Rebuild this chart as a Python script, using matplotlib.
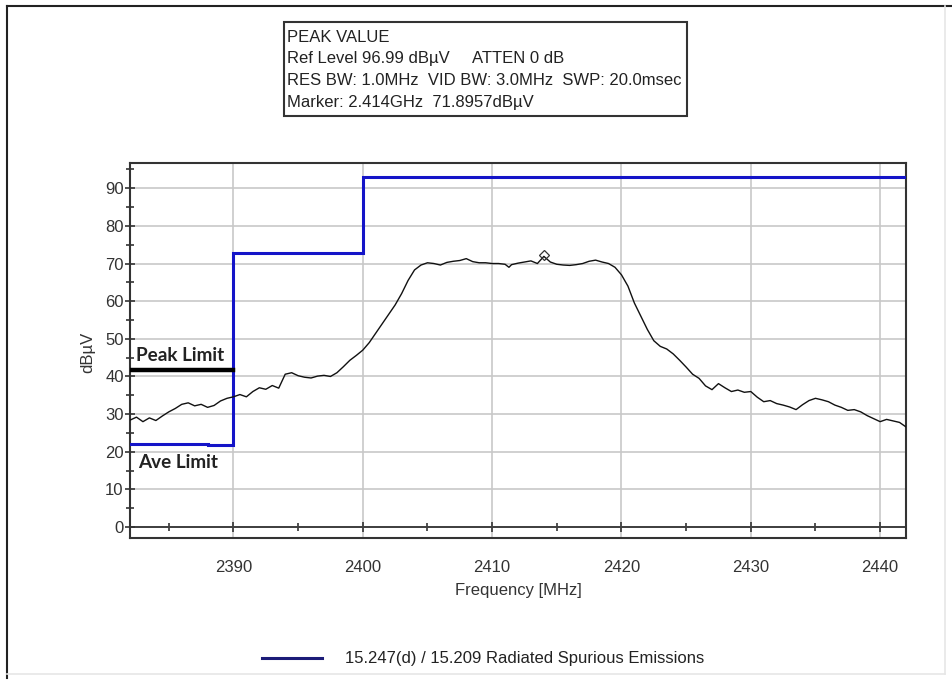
import matplotlib
matplotlib.use("Agg")
import matplotlib.pyplot as plt
from matplotlib.patches import Rectangle
from matplotlib.lines import Line2D
from matplotlib.ticker import MultipleLocator

plt.rcParams['font.family'] = ['Liberation Sans', 'DejaVu Sans']

# ---- data ----
freq_mhz = [2382.0, 2382.5, 2383.0, 2383.5, 2384.0, 2384.5, 2385.0, 2385.5, 2386.0, 2386.5,
            2387.0, 2387.5, 2388.0, 2388.5, 2389.0, 2389.5, 2390.0, 2390.5, 2391.0, 2391.5,
            2392.0, 2392.5, 2393.0, 2393.5, 2394.0, 2394.5, 2395.0, 2395.5, 2396.0, 2396.5,
            2397.0, 2397.5, 2398.0, 2398.5, 2399.0, 2399.5, 2400.0, 2400.5, 2401.0, 2401.5,
            2402.0, 2402.5, 2403.0, 2403.5, 2404.0, 2404.5, 2405.0, 2405.5, 2406.0, 2406.5,
            2407.0, 2407.5, 2408.0, 2408.5, 2409.0, 2409.5, 2410.0, 2410.5, 2411.0, 2411.3,
            2411.5, 2412.0, 2412.5, 2413.0, 2413.5, 2414.0, 2414.5, 2415.0, 2415.5, 2416.0,
            2416.5, 2417.0, 2417.5, 2418.0, 2418.5, 2419.0, 2419.5, 2420.0, 2420.5, 2421.0,
            2421.5, 2422.0, 2422.5, 2423.0, 2423.5, 2424.0, 2424.5, 2425.0, 2425.5, 2426.0,
            2426.5, 2427.0, 2427.5, 2428.0, 2428.5, 2429.0, 2429.5, 2430.0, 2430.5, 2431.0,
            2431.5, 2432.0, 2432.5, 2433.0, 2433.5, 2434.0, 2434.5, 2435.0, 2435.5, 2436.0,
            2436.5, 2437.0, 2437.5, 2438.0, 2438.5, 2439.0, 2439.5, 2440.0, 2440.5, 2441.0,
            2441.5, 2442.0]
level_dbuv = [28.4, 29.2, 28.0, 29.0, 28.3, 29.5, 30.6, 31.5, 32.6, 33.0,
              32.2, 32.6, 31.8, 32.3, 33.5, 34.2, 34.6, 35.2, 34.6, 36.0,
              37.0, 36.6, 37.6, 36.9, 40.6, 41.0, 40.2, 39.8, 39.6, 40.1,
              40.3, 40.0, 41.0, 42.6, 44.3, 45.6, 47.0, 49.0, 51.5, 54.0,
              56.5, 59.0, 62.0, 65.5, 68.3, 69.6, 70.2, 70.0, 69.6, 70.3,
              70.6, 70.8, 71.3, 70.5, 70.2, 70.2, 70.0, 70.0, 69.8, 69.0,
              69.7, 70.1, 70.4, 70.7, 70.0, 71.9, 70.4, 69.8, 69.6, 69.5,
              69.7, 70.0, 70.6, 70.9, 70.4, 70.0, 69.0, 67.0, 64.0, 59.5,
              56.0, 52.5, 49.5, 48.0, 47.3, 46.0, 44.3, 42.5, 40.6, 39.5,
              37.5, 36.5, 38.1, 37.0, 36.0, 36.4, 35.8, 36.0, 34.5, 33.3,
              33.6, 32.8, 32.4, 31.9, 31.2, 32.5, 33.6, 34.2, 33.8, 33.3,
              32.4, 31.8, 31.0, 31.2, 30.6, 29.6, 28.8, 28.0, 28.6, 28.2,
              27.8, 26.6]

limit_freq = [2382, 2388, 2388, 2390, 2390, 2400, 2400, 2442]
limit_level = [22.0, 22.0, 21.7, 21.7, 72.8, 72.8, 92.9, 92.9]

peak_limit_freq = [2382, 2390]
peak_limit_level = [41.6, 41.6]

marker_freq = 2414.0
marker_level = 72.3

x_major_ticks = [2390, 2400, 2410, 2420, 2430, 2440]
y_major_ticks = [0, 10, 20, 30, 40, 50, 60, 70, 80, 90]

info_lines = ["PEAK VALUE",
              "Ref Level 96.99 dB\u00b5V     ATTEN 0 dB",
              "RES BW: 1.0MHz  VID BW: 3.0MHz  SWP: 20.0msec",
              "Marker: 2.414GHz  71.8957dB\u00b5V"]
legend_label = "15.247(d) / 15.209 Radiated Spurious Emissions"

# ---- figure ----
W, H = 952, 681
fig = plt.figure(figsize=(W / 100, H / 100), dpi=100)

def fx(px):
    return px / W

def fy(py):
    return 1 - py / H

ax = fig.add_axes([fx(130), fy(538), fx(906) - fx(130), fy(163) - fy(538)])
ax.set_xlim(2382, 2442)
ax.set_ylim(-2.9, 96.7)

axis_col = '#333333'
grid_col = '#c8c8c8'
limit_col = '#1414c8'

ax.set_xticks(x_major_ticks)
ax.set_yticks(y_major_ticks)
ax.xaxis.set_minor_locator(MultipleLocator(5))
ax.yaxis.set_minor_locator(MultipleLocator(5))
ax.grid(True, which='major', color=grid_col, linewidth=1.2, zorder=0)
ax.set_axisbelow(True)

for s in ['left', 'right', 'top']:
    ax.spines[s].set_color(axis_col)
    ax.spines[s].set_linewidth(1.5)
ax.spines['bottom'].set_position(('data', 0))
ax.spines['bottom'].set_color(axis_col)
ax.spines['bottom'].set_linewidth(1.3)
# bottom frame line
ax.plot([0, 1], [0, 0], transform=ax.transAxes, color=axis_col, lw=1.5,
        clip_on=False, zorder=5)

ax.tick_params(axis='both', which='major', direction='inout', length=7, width=1.2,
               color=axis_col, labelsize=12, labelcolor='#333333')
ax.tick_params(axis='both', which='minor', direction='inout', length=6, width=1.2,
               color=axis_col)
ax.tick_params(axis='x', which='major', pad=20)
ax.tick_params(axis='y', which='major', pad=1)

ax.plot(limit_freq, limit_level, color=limit_col, lw=2.2, zorder=3, solid_joinstyle='miter')
ax.plot(peak_limit_freq, peak_limit_level, color='black', lw=3.2, zorder=3)
ax.plot(freq_mhz, level_dbuv, color='#111111', lw=1.0, zorder=4)
ax.plot([marker_freq], [marker_level], marker='D', markersize=5, mfc='none',
        mec='#333333', mew=0.9, zorder=5)

ax.text(2382.45, 45.6, "Peak Limit", fontsize=13.6, fontweight='bold',
        family=['Lato', 'DejaVu Sans'], color='#222222', va='center', ha='left')
ax.text(2382.6, 17.2, "Ave Limit", fontsize=13.6, fontweight='bold',
        family=['Lato', 'DejaVu Sans'], color='#222222', va='center', ha='left')

fig.text(fx(518), fy(590), "Frequency [MHz]", ha='center', va='center',
         fontsize=12, color='#333333')
fig.text(fx(88), fy(352), "dB\u00b5V", ha='center', va='center', rotation=90,
         fontsize=12, color='#333333')

# info box
fig.patches.append(Rectangle((fx(284), fy(116)), fx(687) - fx(284), fy(22) - fy(116),
                             transform=fig.transFigure, fill=False,
                             edgecolor='#333333', linewidth=1.5))
for i, line in enumerate(info_lines):
    fig.text(fx(287), fy(37 + i * 21.7), line, ha='left', va='center',
             fontsize=12, color='#222222')

# legend
fig.lines.append(Line2D([fx(262), fx(322)], [fy(658), fy(658)], transform=fig.transFigure,
                        color='#1c1c78', lw=2.2))
fig.text(fx(345), fy(658), legend_label, ha='left', va='center', fontsize=12,
         color='#222222')

# outer frame
fig.lines.append(Line2D([fx(7), fx(7)], [fy(6), fy(678)], transform=fig.transFigure,
                        color='#222222', lw=1.5))
fig.lines.append(Line2D([fx(7), fx(952)], [fy(6), fy(6)], transform=fig.transFigure,
                        color='#222222', lw=1.5))
fig.lines.append(Line2D([fx(945), fx(945)], [fy(6), fy(674)], transform=fig.transFigure,
                        color='#e6e6e6', lw=1.2))
fig.lines.append(Line2D([fx(7), fx(945)], [fy(674), fy(674)], transform=fig.transFigure,
                        color='#e6e6e6', lw=1.2))

fig.savefig("out.png", dpi=100)
